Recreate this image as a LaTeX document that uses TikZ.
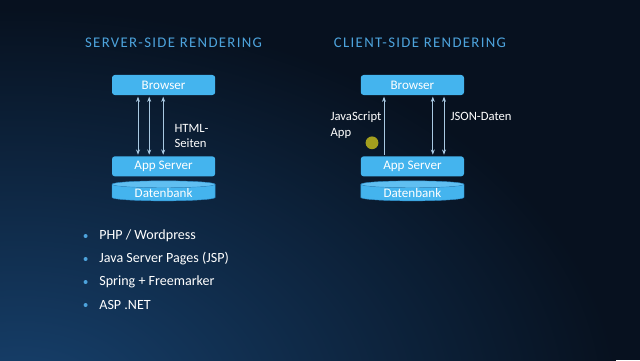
\documentclass[tikz,border=0pt]{standalone}
\usepackage{fontspec}
\setmainfont{Carlito}
\newfontfamily\titlefont[LetterSpace=9]{Carlito}
\usepackage{xcolor}
\usetikzlibrary{arrows.meta,positioning,shapes.geometric}

\definecolor{bgnavy}{HTML}{07111F}
\definecolor{bgglow}{HTML}{17426F}
\definecolor{boxblue}{HTML}{44B4EE}
\definecolor{boxedge}{HTML}{2E8FCC}
\definecolor{titleblue}{HTML}{4DA3DC}
\definecolor{linkblue}{HTML}{A9C9E2}
\definecolor{pointer}{HTML}{A39F1E}

\begin{document}
\begin{tikzpicture}[
  node distance=1.52cm and 6mm,
  tier/.style={fill=boxblue, rounded corners=2pt, minimum width=2.58cm, minimum height=0.5cm, inner sep=0pt, text=white, font=\fontsize{9.3}{11}\selectfont},
  store/.style={cylinder, shape border rotate=90, aspect=0.12, cylinder uses custom fill, cylinder body fill=boxblue, cylinder end fill=boxblue!85!white, draw=boxedge, line width=0.3pt, minimum width=2.58cm, minimum height=0.5cm, inner sep=0pt, text=white, font=\fontsize{9.3}{11}\selectfont},
  heading/.style={text=titleblue, font=\titlefont\fontsize{10.5}{12}\selectfont},
  note/.style={text=white, align=left, font=\fontsize{9}{11}\selectfont},
  link/.style={draw=linkblue, line width=0.5pt, {Stealth[length=1.3mm,width=1mm]}-{Stealth[length=1.3mm,width=1mm]}, shorten <=1pt, shorten >=1pt},
  uplink/.style={draw=linkblue, line width=0.5pt, -{Stealth[length=1.3mm,width=1mm]}, shorten <=1pt, shorten >=1pt},
  item/.style={text=white, anchor=west, font=\fontsize{10}{12}\selectfont}
]
% background
\fill[bgnavy] (0,0) rectangle (16,9);
\begin{scope}
  \clip (0,0) rectangle (16,9);
  \shade[inner color=bgglow, outer color=bgnavy] (0.5,-1.2) ellipse (15cm and 10cm);
\end{scope}
\useasboundingbox (0,0) rectangle (16,9);

% server-side rendering
\node[heading] (sstitle) at (4.34,7.92) {SERVER-SIDE RENDERING};
\node[tier] (ssbrowser) at (4.09,6.875) {Browser};
\node[tier, below=of ssbrowser] (ssapp) {App Server};
\node[store, below=1mm of ssapp] (ssdb) {Datenbank};
\foreach \dx in {-0.64,-0.36,-0.01}
  \draw[link] ([xshift=\dx cm]ssbrowser.south) -- ([xshift=\dx cm]ssapp.north);
\node[note, anchor=west] (sshtml) at (4.24,5.6) {HTML-\\Seiten};

% client-side rendering
\node[heading] (cstitle) at (10.5,7.92) {CLIENT-SIDE RENDERING};
\node[tier] (csbrowser) at (10.31,6.875) {Browser};
\node[tier, below=of csbrowser] (csapp) {App Server};
\node[store, below=1mm of csapp] (csdb) {Datenbank};
\draw[uplink] ([xshift=-0.71cm]csapp.north) -- ([xshift=-0.71cm]csbrowser.south);
\foreach \dx in {0.51,0.79}
  \draw[link] ([xshift=\dx cm]csbrowser.south) -- ([xshift=\dx cm]csapp.north);
\node[note, anchor=north west] (csjs) at (8.14,6.32) {JavaScript\\App};
\node[note, anchor=north west] (csjson) at (11.14,6.32) {JSON-Daten};
\fill[pointer] (9.3,5.43) circle (0.16cm);

% bullet list
\foreach \txt [count=\i] in {PHP / Wordpress, Java Server Pages (JSP), Spring + Freemarker, ASP .NET} {
  \node[item] (tech\i) at (2.36,{3.1-(\i-1)*0.575}) {\txt};
  \fill[titleblue] ([xshift=-0.22cm]tech\i.west) circle (0.05cm);
}
\end{tikzpicture}
\end{document}
